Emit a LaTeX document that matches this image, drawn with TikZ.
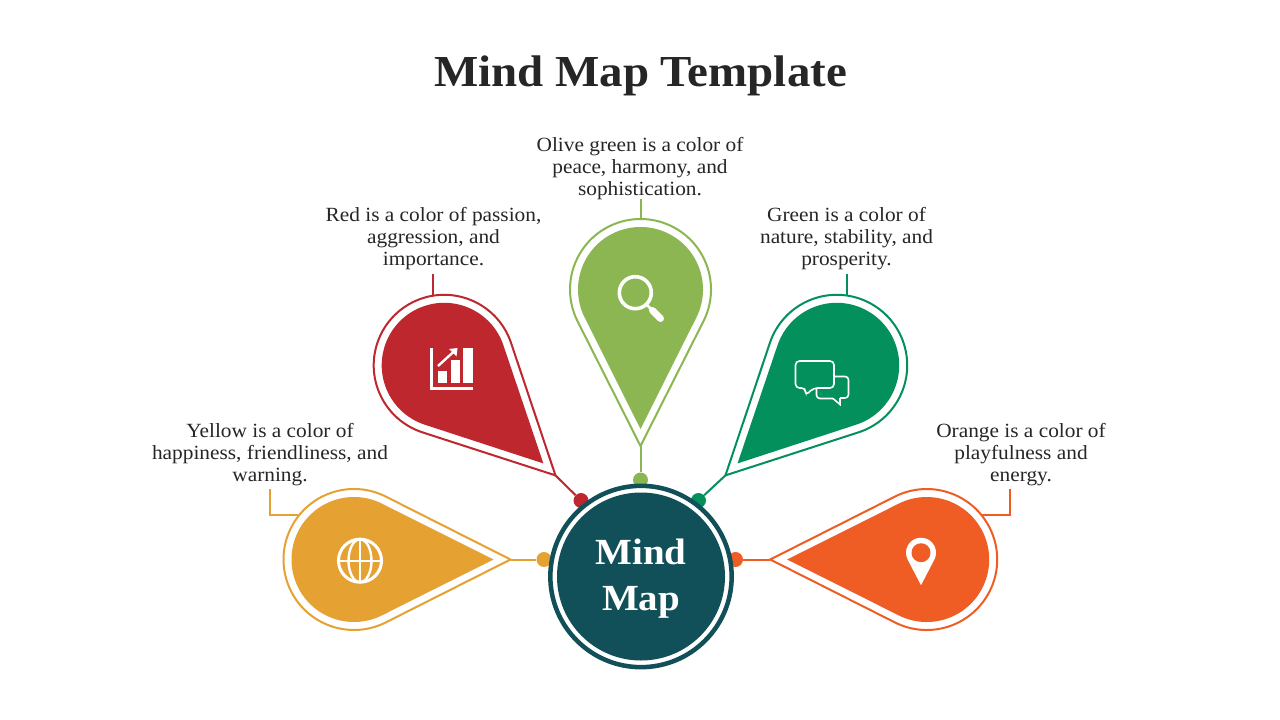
\documentclass[tikz,border=0pt]{standalone}
\usepackage{fontspec}
\setmainfont{Liberation Serif}
\newfontfamily\bodyfont[FakeStretch=1.06]{Liberation Serif}
\newfontfamily\headfont[FakeStretch=1.06]{Liberation Serif Bold}
\definecolor{cred}{HTML}{BE272D}
\definecolor{colive}{HTML}{8CB652}
\definecolor{cgreen}{HTML}{03905C}
\definecolor{corange}{HTML}{F05D24}
\definecolor{cyellow}{HTML}{E5A232}
\definecolor{cteal}{HTML}{125059}
\definecolor{ctext}{HTML}{262626}
\tikzset{
  x=0.75pt,y=0.75pt,
  bodytext/.style={align=center,text=ctext,inner sep=0pt,font=\bodyfont\fontsize{15.1}{16.5}\selectfont},
  dotnode/.style={circle,fill=#1,inner sep=0pt,minimum size=11.2pt},
  conn/.style={draw=#1,line width=1.5pt},
  iconline/.style={draw=white,line width=#1},
  iconfill/.style={fill=white,draw=none}
}
% \pinshape{center x}{center y}{rotation}{colour}{name}
\newcommand{\pinshape}[5]{%
  \begin{scope}[shift={(#1,-#2)},rotate=#3]
    \coordinate (#5) at (156.5,0);
    \draw[#4,line width=1.5pt,fill=white,line join=miter] (156.5,0) -- (63.2:70.5) arc[start angle=63.2,end angle=296.8,radius=70.5] -- cycle;
    \fill[#4] (139.5,0) -- (63.4:62.5) arc[start angle=63.4,end angle=296.6,radius=62.5] -- cycle;
  \end{scope}}
\begin{document}
\begin{tikzpicture}
\useasboundingbox (0,0) rectangle (1280,-720);
\fill[white] (0,0) rectangle (1280,-720);

\node[text=ctext,inner sep=0pt,font=\headfont\fontsize{33.2}{38}\selectfont] (title) at (640.5,-76) {Mind Map Template};

% text blocks
\node[bodytext] (tyellow) at (270,-455) {Yellow is a color of\\happiness, friendliness, and\\warning.};
\node[bodytext] (tred) at (433.5,-238.5) {Red is a color of passion,\\aggression, and\\importance.};
\node[bodytext] (tolive) at (640,-169) {Olive green is a color of\\peace, harmony, and\\sophistication.};
\node[bodytext] (tgreen) at (846.5,-238.5) {Green is a color of\\nature, stability, and\\prosperity.};
\node[bodytext] (torange) at (1021,-455) {Orange is a color of\\playfulness and\\energy.};

% leader anchors
\coordinate (ly0) at (270,-489); \coordinate (ly1) at (270,-515); \coordinate (ly2) at (298,-515);
\coordinate (lr0) at (433,-274); \coordinate (lr1) at (433,-296);
\coordinate (lo0) at (641,-199); \coordinate (lo1) at (641,-219);
\coordinate (lg0) at (847,-274); \coordinate (lg1) at (847,-296);
\coordinate (lc0) at (1010,-489); \coordinate (lc1) at (1010,-515); \coordinate (lc2) at (982,-515);
\draw[conn=cyellow] (ly0) -- (ly1) -- (ly2);
\draw[conn=cred] (lr0) -- (lr1);
\draw[conn=colive] (lo0) -- (lo1);
\draw[conn=cgreen] (lg0) -- (lg1);
\draw[conn=corange] (lc0) -- (lc1) -- (lc2);

% pins
\pinshape{354}{559.5}{0}{cyellow}{tipy}
\pinshape{444.2}{365.3}{-44.7}{cred}{tipr}
\pinshape{640.5}{289.5}{-90}{colive}{tipo}
\pinshape{836.7}{365.3}{-135.3}{cgreen}{tipg}
\pinshape{926.7}{559.5}{180}{corange}{tipc}

% dots
\node[dotnode=cyellow] (doty) at (544,-559.5) {};
\node[dotnode=cred] (dotr) at (581,-500.5) {};
\node[dotnode=colive] (doto) at (640.5,-480) {};
\node[dotnode=cgreen] (dotg) at (698.5,-500.5) {};
\node[dotnode=corange] (dotc) at (735.5,-559.5) {};
\draw[conn=cyellow] (tipy) -- (doty);
\draw[conn=cred] (tipr) -- (dotr);
\draw[conn=colive] (tipo) -- (doto);
\draw[conn=cgreen] (tipg) -- (dotg);
\draw[conn=corange] (tipc) -- (dotc);

% hub
\node[circle,draw=cteal,line width=3.4pt,fill=white,minimum size=136pt,inner sep=0pt] (ring) at (641,-576.5) {};
\node[circle,fill=cteal,minimum size=126pt,inner sep=0pt] (hub) at (641,-576.5) {};
\node[align=center,text=white,inner sep=0pt,font=\headfont\fontsize{27.6}{34.5}\selectfont] (hubtext) at (641,-578.5) {Mind\\Map};

% chart icon
\draw[iconline=2.2pt] (431.5,-348) -- (431.5,-388.5) -- (472.5,-388.5);
\fill[iconfill] (438,-371) rectangle (447,-383);
\fill[iconfill] (450.5,-360) rectangle (460,-383);
\fill[iconfill] (463,-348) rectangle (472.5,-383);
\draw[iconline=1.8pt] (438,-366) -- (455,-350.5);
\fill[iconfill] (457.5,-348) -- (449,-349) -- (456.5,-356.5) -- cycle;

% magnifier icon
\draw[iconline=2.7pt] (635.3,-292.7) circle[radius=16];
\draw[iconline=2pt] (646.5,-304.5) -- (651,-309);
\draw[iconline=5.2pt,line cap=round] (652.5,-310.5) -- (660.5,-318.5);

% speech bubbles icon
\draw[iconline=1.2pt,rounded corners=3pt] (815,-361) -- (834,-361) -- (834,-388) -- (813.5,-388) -- (805.5,-395.5) -- (805.5,-388) -- (795.5,-388) -- (795.5,-361) -- (815,-361);
\draw[iconline=1.2pt,rounded corners=2.5pt] (834,-376.5) -- (848.5,-376.5) -- (848.5,-398) -- (840,-398);
\draw[iconline=1.2pt] (840,-398) -- (840,-404.5) -- (833,-398.5);
\draw[iconline=1.2pt,rounded corners=2.5pt] (833,-398.5) -- (816.5,-398.5) -- (816.5,-388);

% globe icon
\draw[iconline=2.3pt] (360,-560.7) circle[radius=21.5];
\draw[iconline=1.8pt] (360,-560.7) ellipse[x radius=11.5,y radius=21.5];
\draw[iconline=1.8pt] (360,-539.2) -- (360,-582.2);
\draw[iconline=1.8pt] (338.5,-560.7) -- (381.5,-560.7);

% location icon
\begin{scope}[shift={(921,-552.7)},rotate=-90]
  \fill[iconfill] (32.5,0) -- (62:15) arc[start angle=62,end angle=298,radius=15] -- cycle;
\end{scope}
\fill[corange] (921,-552.7) circle[radius=9.5];
\end{tikzpicture}
\end{document}
